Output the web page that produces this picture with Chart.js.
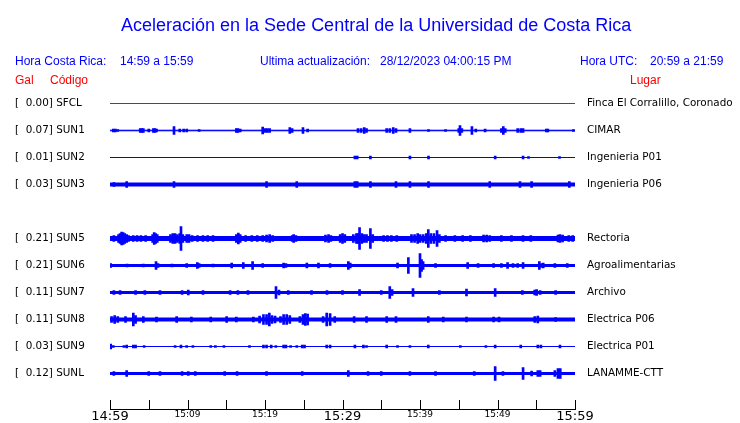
<!DOCTYPE html>
<html><head><meta charset="utf-8">
<script src="https://cdn.jsdelivr.net/npm/chart.js@4.4.0/dist/chart.umd.min.js"></script>
<style>
html,body{margin:0;padding:0;background:#fff;}
#wrap{position:relative;width:740px;height:423px;overflow:hidden;background:#fff;}
canvas{position:absolute;left:0;top:0;}
.t{position:absolute;white-space:pre;font-family:'Liberation Sans',Arial,sans-serif;line-height:1;}
.b{color:#0000ff;font-size:12px}
.r{color:#ff0000;font-size:12px}
</style></head><body>
<div id="wrap">
<canvas id="c" width="740" height="423"></canvas>
<div class="t" style="left:121px;top:16px;font-size:18px;color:#0000ff">Aceleración en la Sede Central de la Universidad de Costa Rica</div>
<div class="t b" style="left:15px;top:55px">Hora Costa Rica:</div>
<div class="t b" style="left:120px;top:55px">14:59 a 15:59</div>
<div class="t b" style="left:260px;top:55px">Ultima actualización:</div>
<div class="t b" style="left:380px;top:55px">28/12/2023 04:00:15 PM</div>
<div class="t b" style="left:580px;top:55px">Hora UTC:</div>
<div class="t b" style="left:650px;top:55px">20:59 a 21:59</div>
<div class="t r" style="left:15px;top:74px">Gal</div>
<div class="t r" style="left:50px;top:74px">Código</div>
<div class="t r" style="left:630px;top:74px">Lugar</div>
</div>
<script>
// ---- data ----
const startClock = '14:59';
const windowMinutes = 60;
const codes  = ['SFCL','SUN1','SUN2','SUN3',null,'SUN5','SUN6','SUN7','SUN8','SUN9','SUNL'];
const places = ['Finca El Corralillo, Coronado','CIMAR','Ingenieria P01','Ingenieria P06',null,
                'Rectoria','Agroalimentarias','Archivo','Electrica P06','Electrica P01','LANAMME-CTT'];
const peakGal = [0.00,0.07,0.01,0.03,null,0.21,0.21,0.11,0.11,0.03,0.12];
// background noise half-amplitude of each trace
const baseNoise = [0,0.3,0,1.5,null,2,1,1,1.5,0,1];
// bursts: [minute after start, half-amplitude]
const sfclSpikes = [];
const sun1Spikes = [[0.43,1.5],[0.7,1.5],[1.0,1],[3.9,2],[4.1,2],[4.3,2],[5.0,1.5],[5.6,2],[5.8,2],[6.0,1.5],[8.26,4],[9.0,1.5],[9.5,1.5],[9.9,1.5],[11.5,1],[16.3,2],[16.5,2],[16.8,1.5],[19.7,3.5],[20.0,2],[20.3,2],[20.6,2],[23.2,3],[23.5,2],[24.9,3],[25.5,1.5],[32.0,2],[32.4,2],[32.8,3],[33.1,2],[35.7,2],[36.1,2],[36.55,3],[36.9,2],[38.7,2],[41.1,1],[43.3,1],[45.0,2],[45.16,5],[45.4,2],[46.7,4],[47.2,1.5],[48.4,1.5],[50.5,2],[50.75,4],[51.0,2],[52.6,2],[53.0,2],[53.3,2],[56.3,1.5],[56.5,1.5],[59.8,1]];
const sun2Spikes = [[31.6,1.5],[31.9,1.5],[33.6,1.5],[38.7,1.5],[41.1,1.5],[49.7,1.5],[53.3,1.5],[54.0,1],[58.0,1]];
const sun3Spikes = [[0.5,2],[2.15,3],[8.26,3],[20.2,3],[24.1,3],[31.6,3],[31.9,3],[33.6,3],[36.9,3],[38.7,3],[41.1,3],[49.0,3],[52.9,3],[54.4,3],[59.27,3]];
const sun5Spikes = [[0.5,3],[1.1,4],[1.3,5],[1.5,6.5],[1.7,6],[1.9,5],[2.15,4],[2.4,3],[3.0,3],[3.5,3],[4.0,3],[4.6,3],[5.5,4],[5.7,6],[5.9,5],[6.1,4],[7.8,4],[8.1,5],[8.4,5],[8.7,4],[9.0,5],[9.16,12],[9.4,4],[9.9,4],[10.2,4],[10.6,3],[11.3,3],[12.0,3],[12.6,3],[13.3,3],[16.3,4],[16.56,5.5],[16.8,4],[17.5,3],[18.3,3],[19.0,3],[19.7,3],[20.2,3.5],[20.6,4],[21.0,3],[23.5,3],[23.7,4],[24.0,3],[27.8,3.5],[28.2,4],[28.5,3],[29.7,4],[30.0,5],[30.3,4],[31.4,4],[31.8,5],[32.0,5],[32.2,11],[32.5,5],[32.8,4],[33.1,4],[33.6,10],[33.9,4],[35.3,3],[35.8,3],[36.3,3],[37.0,3],[38.9,4],[39.3,4],[39.7,5],[40.0,4],[40.4,4],[40.8,5],[41.07,9],[41.4,5],[41.8,5],[42.2,8],[42.5,4],[43.3,3],[44.5,3],[45.5,3],[46.5,3],[48.2,3.5],[48.6,3.5],[49.0,3],[50.5,3],[51.8,3],[53.3,3],[54.3,3],[57.8,3.5],[58.06,4],[58.4,3.5],[59.2,3],[59.7,3]];
const sun6Spikes = [[0.09,2],[2.2,1.5],[4.3,1.5],[5.94,4],[6.2,2],[8.0,1.5],[9.9,2],[11.27,3],[11.5,2],[13.3,1.5],[15.7,2.5],[17.2,3],[18.4,4],[19.7,2],[22.4,2.5],[22.7,2],[25.4,2.5],[26.9,2.5],[28.4,2],[30.75,4],[31.0,2.5],[37.1,2.5],[38.5,8],[40.0,12],[40.2,6],[40.4,4],[42.0,2],[46.15,3],[47.5,2],[49.5,2],[50.5,2],[51.3,3],[52.0,2],[52.6,2],[53.3,3],[55.4,4],[55.7,2],[55.9,2.5],[57.4,2],[59.0,2]];
const sun7Spikes = [[0.5,2],[1.3,2],[3.3,2],[4.5,2],[6.45,2],[9.3,2],[10.1,2.5],[12.0,2],[15.5,2],[16.5,2],[17.8,2],[21.42,6],[21.8,2.5],[23.0,2],[26.0,2],[28.0,2],[30.0,2],[32.2,3],[35.0,2],[36.1,6],[36.4,3],[39.1,4],[42.5,2],[46.0,3.5],[49.7,4],[53.2,2],[54.8,2.5],[55.05,3],[55.5,2],[57.5,2]];
const sun8Spikes = [[0.2,3],[0.6,4],[1.0,3],[2.0,3],[3.01,6.5],[3.3,4],[4.3,3],[6.0,2.5],[8.6,3],[10.5,2.5],[13.0,2.5],[15.05,3],[16.3,2.5],[18.5,2.5],[19.3,3.5],[19.8,5],[20.2,5],[20.56,6.5],[20.9,4],[21.3,3.5],[22.0,3],[22.4,5],[22.8,5],[23.2,4],[24.5,3],[24.9,5],[25.2,6],[25.5,5.5],[27.5,3],[27.96,6.5],[28.4,6],[29.0,3],[31.5,3],[33.1,3],[35.7,3],[36.9,3],[41.07,3],[43.0,2.5],[46.0,2.5],[49.5,2.5],[50.2,2.5],[54.8,3],[55.2,3.5],[57.5,2]];
const sun9Spikes = [[0.09,2.5],[0.43,1],[1.8,1],[2.15,1.5],[3.01,1.5],[3.3,1.5],[4.4,1],[8.4,1],[9.16,1.5],[9.89,1],[10.7,1],[13.0,1],[13.6,1],[14.7,1],[18.0,1],[19.8,1.5],[20.2,1.5],[20.8,1.5],[21.4,1],[22.4,1.5],[22.7,1.5],[23.3,1],[24.1,1],[24.8,1.5],[25.1,1.5],[27.96,1.5],[28.4,1.5],[31.6,1.5],[32.7,1.5],[33.1,1],[35.7,1.5],[37.1,1],[38.7,1],[41.07,1.5],[45.2,1],[48.5,1],[49.7,1.5],[53.0,1.5],[55.2,1.5],[55.6,1.5],[58.06,1.5]];
const sunlSpikes = [[0.5,2],[2.15,3],[5.0,2],[6.45,2],[9.3,2],[10.1,2],[11.0,2],[14.8,2],[16.4,2],[20.2,2],[24.8,2],[30.75,3],[33.3,2],[35.0,2],[38.7,2],[42.0,2],[47.0,2],[49.7,7],[50.7,2],[53.3,6],[54.4,2.5],[55.2,3],[55.5,3],[57.4,3],[57.8,5],[58.1,5]];
const traceColors = ['#ff0000','#0000ff','#0000ff','#0000ff',null,'#0000ff','#0000ff','#0000ff','#0000ff','#0000ff','#0000ff'];

// ---- build ----
const spikeLists = [sfclSpikes,sun1Spikes,sun2Spikes,sun3Spikes,null,sun5Spikes,sun6Spikes,sun7Spikes,sun8Spikes,sun9Spikes,sunlSpikes];
const ROW = 27;
const [sh, sm] = startClock.split(':').map(Number);
function clock(m){ const t = sh*60+sm+m; return Math.floor(t/60)+':'+String(t%60).padStart(2,'0'); }

const datasets = [];
codes.forEach((code,i)=>{
  if(!code) return;
  const r = i*ROW, b = baseNoise[i], col = traceColors[i];
  if(b>0){
    datasets.push({type:'line',data:[{x:0,y:r-b},{x:windowMinutes,y:r-b}],borderColor:col,borderWidth:1,pointRadius:0,fill:false});
    datasets.push({type:'line',data:[{x:0,y:r+b},{x:windowMinutes,y:r+b}],borderColor:col,borderWidth:1,pointRadius:0,fill:'-1',backgroundColor:col});
  } else {
    datasets.push({type:'line',data:[{x:0,y:r},{x:windowMinutes,y:r}],borderColor:col,borderWidth:1,pointRadius:0,fill:false});
  }
  const sp = spikeLists[i];
  if(sp.length){
    datasets.push({type:'bar',data:sp.map(([m,a])=>({x:m,y:[r-a,r+a]})),backgroundColor:col,borderWidth:0,barThickness:2,grouped:false});
  }
});

const rowTicks = scale => { scale.ticks = codes.map((c,i)=>c?{value:i*ROW}:null).filter(Boolean); };
const lblFont = {family:"'DejaVu Sans', sans-serif", size:10.4};
const noEdgePad = s => { s.paddingTop = 0; s.paddingBottom = 0; };

const tickMarks = {
  id:'tickMarks',
  afterDraw(chart){
    const x = chart.scales.x, ctx = chart.ctx, bottom = Math.round(chart.chartArea.bottom);
    ctx.save(); ctx.strokeStyle='#000'; ctx.lineWidth=1;
    x.ticks.forEach(t=>{
      const px = Math.round(x.getPixelForValue(t.value))+0.5;
      ctx.beginPath(); ctx.moveTo(px,bottom-9); ctx.lineTo(px,bottom); ctx.stroke();
    });
    ctx.restore();
  }
};

new Chart(document.getElementById('c'),{
  type:'line',
  data:{datasets},
  plugins:[tickMarks],
  options:{
    responsive:false, animation:false, devicePixelRatio:1,
    layout:{padding:{left:15,right:0,top:90.5,bottom:0}},
    plugins:{legend:{display:false},tooltip:{enabled:false},title:{display:false}},
    scales:{
      x:{type:'linear',min:0,max:windowMinutes,offset:false,
         grid:{display:false,drawTicks:false},
         border:{display:true,color:'#000',width:1},
         afterFit(s){ s.height = 14; },
         ticks:{stepSize:5,autoSkip:false,maxRotation:0,minRotation:0,padding:0,color:'#000',
           callback:v=> v%10===0 ? clock(v) : '',
           font:ctx=>{ const v = ctx.tick ? ctx.tick.value : 0; return {family:"'DejaVu Sans', sans-serif", size:(v%30===0)?13:9}; }
         }},
      y:{type:'linear',position:'left',reverse:true,min:-13,max:305.5,
         grid:{display:false,drawTicks:false},border:{display:false},
         afterBuildTicks:rowTicks,
         afterFit(s){ s.width = 95; noEdgePad(s); },
         ticks:{crossAlign:'far',color:'#000',font:lblFont,autoSkip:false,
           callback:v=>{ const i = Math.round(v/ROW); return '[' + peakGal[i].toFixed(2).padStart(6,' ') + '] ' + codes[i]; }}},
      y2:{type:'linear',position:'right',reverse:true,min:-13,max:305.5,
         grid:{display:false,drawTicks:false},border:{display:false},
         afterBuildTicks:rowTicks,
         afterFit(s){ s.width = 165; noEdgePad(s); },
         ticks:{crossAlign:'near',padding:12,color:'#000',font:lblFont,autoSkip:false,
           callback:v=> places[Math.round(v/ROW)]}}
    }
  }
});
</script>
</body></html>
